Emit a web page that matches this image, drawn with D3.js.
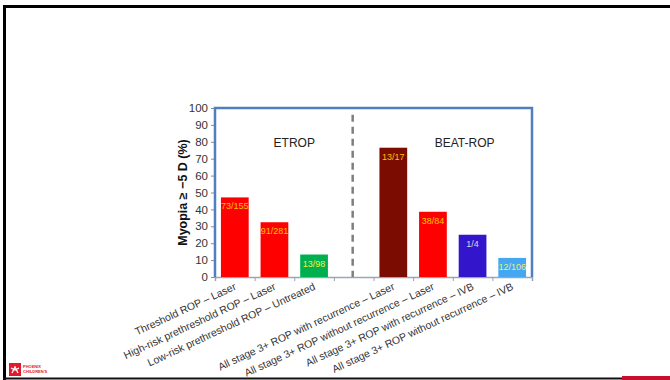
<!DOCTYPE html>
<html>
<head>
<meta charset="utf-8">
<script src="https://cdn.jsdelivr.net/npm/d3@7"></script>
<style>
  html, body { margin: 0; padding: 0; background: #fff; }
  svg { display: block; font-family: "Liberation Sans", Arial, sans-serif; }
</style>
</head>
<body>
<svg id="chart" width="670" height="380"></svg>
<script>
// Categories (an empty slot separates the two studies)
const categories = [
  "Threshold ROP \u2013 Laser",
  "High-risk prethreshold ROP \u2013 Laser",
  "Low-risk prethreshold ROP \u2013 Untreated",
  "",
  "All stage 3+ ROP with recurrence \u2013 Laser",
  "All stage 3+ ROP without recurrence \u2013 Laser",
  "All stage 3+ ROP with recurrence \u2013 IVB",
  "All stage 3+ ROP without recurrence \u2013 IVB"
];
// Myopia >= -5 D, percent of eyes
const values = [47.1, 32.4, 13.3, null, 76.5, 38.6, 25.0, 11.3];
// Counts shown inside each bar
const counts = ["73/155", "91/281", "13/98", "", "13/17", "38/84", "1/4", "12/106"];
const yTicks = [0, 10, 20, 30, 40, 50, 60, 70, 80, 90, 100];
const studies = ["ETROP", "BEAT-ROP"];

// Styling
const barColors = ["#FF0000", "#FF0000", "#00B050", null, "#7B0C02", "#FF0000", "#3316CC", "#45A6F2"];
const countColors = ["#FFC000", "#FFC000", "#F0F040", null, "#FFC000", "#FFC000", "#D6D6E6", "#E4F07A"];

const svg = d3.select("#chart");
const plot = { left: 215, right: 532, top: 108, bottom: 277 };

const keys = categories.map((c, i) => i);
const x = d3.scaleBand().domain(keys).range([plot.left, plot.right])
  .paddingInner(0.3).paddingOuter(0.15);
const y = d3.scaleLinear().domain([0, 100]).range([plot.bottom, plot.top]);
// Continuous position across category slots (0 = left edge, n = right edge)
const xb = d3.scaleLinear().domain([0, categories.length]).range([plot.left, plot.right]);

// Slide frame
svg.append("rect").attr("x", 0).attr("y", 0).attr("width", 670).attr("height", 380).attr("fill", "#fff");
svg.append("line").attr("x1", 3).attr("x2", 670).attr("y1", 6.5).attr("y2", 6.5)
  .attr("stroke", "#000").attr("stroke-width", 3);
svg.append("line").attr("x1", 4.5).attr("x2", 4.5).attr("y1", 5).attr("y2", 380)
  .attr("stroke", "#000").attr("stroke-width", 3);
svg.append("line").attr("x1", 3).attr("x2", 622).attr("y1", 378.5).attr("y2", 378.5)
  .attr("stroke", "#111").attr("stroke-width", 2);
svg.append("line").attr("x1", 622).attr("x2", 670).attr("y1", 378).attr("y2", 378)
  .attr("stroke", "#C8102E").attr("stroke-width", 4);

// Logo
const logo = svg.append("g").attr("transform", "translate(9,363)");
logo.append("rect").attr("width", 12).attr("height", 13).attr("fill", "#E3182D");
logo.append("path").attr("d", "M3,10 L6,4 L9,10 M2,5 L6,7 L10,5").attr("stroke", "#fff")
  .attr("stroke-width", 1.3).attr("fill", "none");
logo.append("text").attr("x", 14).attr("y", 5).attr("font-size", 4).attr("font-weight", "bold")
  .attr("fill", "#E3182D").text("PHOENIX");
logo.append("text").attr("x", 14).attr("y", 10).attr("font-size", 4).attr("font-weight", "bold")
  .attr("fill", "#E3182D").text("CHILDREN'S");

// Y axis
const yAxis = svg.append("g").attr("transform", `translate(${plot.left},0)`)
  .call(d3.axisLeft(y).tickValues(yTicks).tickSize(4).tickPadding(3));
yAxis.select(".domain").attr("stroke", "#9AA6B8");
yAxis.selectAll(".tick line").attr("stroke", "#8C8C8C");
yAxis.selectAll(".tick text").attr("font-size", 11.5).attr("fill", "#333")
  .attr("font-family", "Liberation Sans, Arial, sans-serif");

// Bottom axis with ticks on category boundaries
const xAxis = svg.append("g").attr("transform", `translate(0,${plot.bottom})`)
  .call(d3.axisBottom(xb).tickValues(d3.range(0, categories.length + 1)).tickSize(4).tickFormat(""));
xAxis.select(".domain").attr("stroke", "#9AA6B8").attr("stroke-width", 1.5);
xAxis.selectAll(".tick line").attr("stroke", "#9AA0A8");

// Bars
const data = categories.map((c, i) => ({ i, c, v: values[i], n: counts[i] })).filter(d => d.v != null);
svg.append("g").selectAll("rect").data(data).join("rect")
  .attr("x", d => x(d.i))
  .attr("width", x.bandwidth())
  .attr("y", d => y(d.v))
  .attr("height", d => y(0) - y(d.v))
  .attr("fill", d => barColors[d.i]);

// Counts inside bars
svg.append("g").selectAll("text").data(data).join("text")
  .attr("x", d => x(d.i) + x.bandwidth() / 2)
  .attr("y", d => y(d.v) + 12)
  .attr("text-anchor", "middle")
  .attr("font-size", 9)
  .attr("fill", d => countColors[d.i])
  .text(d => d.n);

// Plot frame
svg.append("path")
  .attr("d", `M${plot.left},${plot.bottom} V${plot.top} H${plot.right} V${plot.bottom}`)
  .attr("fill", "none").attr("stroke", "#4F7FC0").attr("stroke-width", 2.5);

// Divider between studies
const gapIdx = categories.indexOf("");
svg.append("line")
  .attr("x1", xb(gapIdx + 0.5) - 1).attr("x2", xb(gapIdx + 0.5) - 1)
  .attr("y1", y(96)).attr("y2", y(0))
  .attr("stroke", "#7F7F7F").attr("stroke-width", 2.5).attr("stroke-dasharray", "7,5");

// Study names
svg.append("text").attr("x", xb(2)).attr("y", y(77))
  .attr("text-anchor", "middle").attr("font-size", 12).attr("fill", "#222").text(studies[0]);
svg.append("text").attr("x", xb(6.3)).attr("y", y(77))
  .attr("text-anchor", "middle").attr("font-size", 12).attr("fill", "#222").text(studies[1]);

// Category labels, rotated
svg.append("g").selectAll("text").data(categories.map((c, i) => ({ c, i })).filter(d => d.c))
  .join("text")
  .attr("transform", d => `translate(${x(d.i) + x.bandwidth() / 2 + 2},${plot.bottom + 12}) rotate(-25)`)
  .attr("text-anchor", "end")
  .attr("font-size", 10.5)
  .attr("fill", "#333")
  .text(d => d.c);

// Y axis title
svg.append("text")
  .attr("transform", `translate(187,${(plot.top + plot.bottom) / 2}) rotate(-90)`)
  .attr("text-anchor", "middle")
  .attr("font-size", 12.5)
  .attr("font-weight", "bold")
  .attr("fill", "#111")
  .text("Myopia \u2265 \u22125 D (%)");
</script>
</body>
</html>
